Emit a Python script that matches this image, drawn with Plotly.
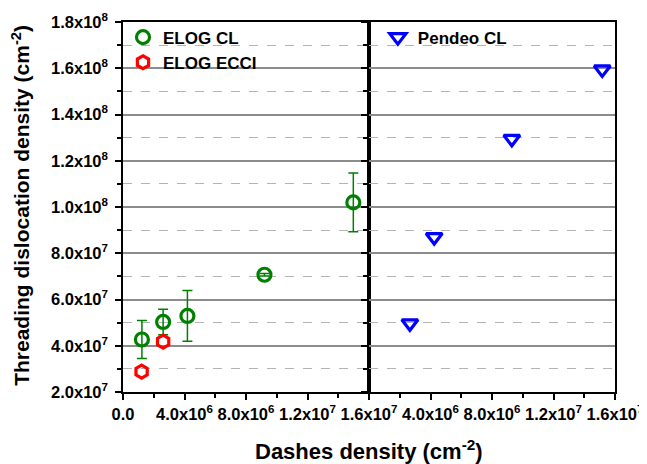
import plotly.graph_objects as go

# ELOG CL (left panel)
elog_cl_x = [1.23e6, 2.61e6, 4.19e6, 9.2e6, 1.498e7]
elog_cl_y = [4.27e7, 5.03e7, 5.29e7, 7.07e7, 1.02e8]
elog_cl_err = [0.82e7, 0.55e7, 1.1e7, 0.05e7, 1.27e7]

# ELOG ECCI (left panel)
elog_ecci_x = [1.21e6, 2.61e6]
elog_ecci_y = [2.88e7, 4.18e7]

# Pendeo CL (right panel)
pendeo_x = [2.66e6, 4.24e6, 9.29e6, 1.517e7]
pendeo_y = [4.97e7, 8.7e7, 1.295e8, 1.595e8]

x_tickvals_left = [0, 4e6, 8e6, 1.2e7, 1.6e7]
x_ticktext_left = ["0.0", "4.0x10<sup>6</sup>", "8.0x10<sup>6</sup>",
                   "1.2x10<sup>7</sup>", "1.6x10<sup>7</sup>"]
x_tickvals_right = [4e6, 8e6, 1.2e7, 1.6e7]
x_ticktext_right = ["4.0x10<sup>6</sup>", "8.0x10<sup>6</sup>",
                    "1.2x10<sup>7</sup>", "1.6x10<sup>7</sup>"]
y_tickvals = [2e7, 4e7, 6e7, 8e7, 1e8, 1.2e8, 1.4e8, 1.6e8, 1.8e8]
y_ticktext = ["2.0x10<sup>7</sup>", "4.0x10<sup>7</sup>", "6.0x10<sup>7</sup>",
              "8.0x10<sup>7</sup>", "1.0x10<sup>8</sup>", "1.2x10<sup>8</sup>",
              "1.4x10<sup>8</sup>", "1.6x10<sup>8</sup>", "1.8x10<sup>8</sup>"]

FONT = "Liberation Sans, Arial, sans-serif"
GREEN = "#008000"
RED = "#ff0000"
BLUE = "#0000ff"

fig = go.Figure()

fig.add_trace(go.Scatter(
    x=elog_cl_x, y=elog_cl_y, mode="markers", name="<b>ELOG CL</b>",
    marker=dict(symbol="circle-open", size=13, color=GREEN, line=dict(width=3.2, color=GREEN)),
    error_y=dict(type="data", array=elog_cl_err, color=GREEN, thickness=1.5, width=5),
    xaxis="x", yaxis="y", legend="legend"))

fig.add_trace(go.Scatter(
    x=elog_ecci_x, y=elog_ecci_y, mode="markers", name="<b>ELOG ECCI</b>",
    marker=dict(symbol="hexagon-open", size=13, color=RED, line=dict(width=3.2, color=RED)),
    xaxis="x", yaxis="y", legend="legend"))

fig.add_trace(go.Scatter(
    x=pendeo_x, y=pendeo_y, mode="markers", name="<b>Pendeo CL</b>",
    marker=dict(symbol="triangle-down-open", size=14, color=BLUE, line=dict(width=3.2, color=BLUE)),
    xaxis="x2", yaxis="y2", legend="legend2"))

TICKFONT = dict(family=FONT, size=16.5, color="black")

xcommon = dict(range=[0, 1.6e7], showline=True, linecolor="black", linewidth=1.5,
               mirror=True, ticks="outside", ticklen=6, tickwidth=1.5, tickcolor="black",
               showgrid=False, zeroline=False, automargin=False,
               minor=dict(tickvals=[2e6, 6e6, 1e7, 1.4e7], ticks="outside", ticklen=4,
                          tickwidth=1.5, tickcolor="black", showgrid=False),
               tickfont=TICKFONT)

ycommon = dict(range=[2e7, 1.8e8], showline=True, linecolor="black", linewidth=1.5,
               ticks="outside", ticklen=6, tickwidth=1.5, tickcolor="black",
               tickvals=y_tickvals, showgrid=True, gridcolor="#8c8c8c", gridwidth=1.5,
               zeroline=False, automargin=False, mirror=True,
               minor=dict(tickvals=[3e7, 5e7, 7e7, 9e7, 1.1e8, 1.3e8, 1.5e8, 1.7e8],
                          ticks="outside", ticklen=4, tickwidth=1.5, tickcolor="black",
                          showgrid=True, gridcolor="#b4b4b4", griddash="dash", gridwidth=1),
               tickfont=TICKFONT)

# the page adds an 8px body margin, so the figure is sized/offset to compensate
fig.update_layout(
    width=639, height=456,
    margin=dict(l=115, r=32, t=14, b=72),
    plot_bgcolor="white", paper_bgcolor="white",
    font=dict(family=FONT, color="black"),
    xaxis=dict(domain=[0, 0.5], anchor="y", tickvals=x_tickvals_left,
               ticktext=["<b>%s</b>" % t for t in x_ticktext_left], **xcommon),
    xaxis2=dict(domain=[0.5, 1], anchor="y2", tickvals=[0] + x_tickvals_right,
                ticktext=[""] + ["<b>%s</b>" % t for t in x_ticktext_right], **xcommon),
    yaxis=dict(domain=[0, 1], anchor="x", ticklabelstandoff=4,
               ticktext=["<b>%s</b>" % t for t in y_ticktext], **ycommon),
    yaxis2=dict(domain=[0, 1], anchor="x2", showticklabels=False, **ycommon),
    legend=dict(x=0.0, y=1.0065, xanchor="left", yanchor="top",
                bgcolor="rgba(0,0,0,0)", font=dict(family=FONT, size=17),
                itemwidth=30, tracegroupgap=0),
    legend2=dict(x=0.518, y=1.0065, xanchor="left", yanchor="top",
                 bgcolor="rgba(0,0,0,0)", font=dict(family=FONT, size=17),
                 itemwidth=30),
    annotations=[
        dict(text="<b>Dashes density (cm<sup>-2</sup>)</b>", xref="paper", yref="paper",
             x=0.5, y=-0.157, xanchor="center", yanchor="middle",
             showarrow=False, font=dict(family=FONT, size=22)),
        dict(text="<b>Threading dislocation density (cm<sup>-2</sup>)</b>", xref="paper",
             yref="paper", x=-0.208, y=0.505, xanchor="center", yanchor="middle",
             textangle=-90, showarrow=False, font=dict(family=FONT, size=21)),
    ],
)

fig.write_html("out.html")
